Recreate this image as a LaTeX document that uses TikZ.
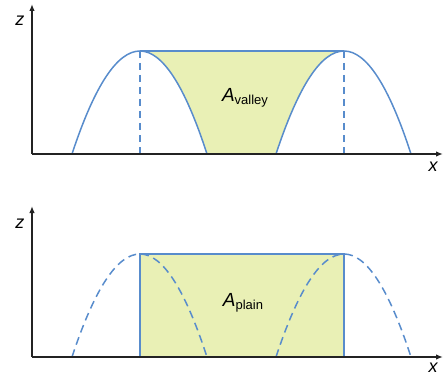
\documentclass[tikz,border=0pt]{standalone}
\usepackage{fontspec}
\setmainfont{Liberation Sans}
\usetikzlibrary{arrows.meta}
\definecolor{curveblue}{RGB}{88,140,204}
\definecolor{areafill}{RGB}{233,240,181}
\definecolor{axisgray}{RGB}{35,35,35}
\tikzset{
  axisline/.style={draw=axisgray, line width=1.8pt, -{Latex[length=7pt,width=5.5pt]}},
  curve/.style={draw=curveblue, line width=1.5pt},
  dashcurve/.style={draw=curveblue, line width=1.5pt, dash pattern=on 8pt off 5pt},
  axlabel/.style={font=\fontsize{18}{18}\selectfont\itshape, inner sep=0pt},
  arealabel/.style={font=\fontsize{19}{19}\selectfont, inner sep=0pt}
}
\newcommand{\sublab}[1]{{\itshape A}\raisebox{-0.25ex}{\fontsize{13}{13}\selectfont #1}}
\begin{document}
\begin{tikzpicture}[x=1pt,y=-1pt]
\useasboundingbox (0,0) rectangle (444,377);
% ---------- top panel ----------
\coordinate (o1) at (32,154);
\coordinate (zt1) at (32,4);
\coordinate (xe1) at (443,154);
\coordinate (la1) at (72,154);
\coordinate (pk1) at (140,51);
\coordinate (lb1) at (207,154);
\coordinate (ra1) at (276,154);
\coordinate (pk2) at (344,51);
\coordinate (rb1) at (411,154);
\coordinate (pk1b) at (140,154);
\coordinate (pk2b) at (344,154);
% shaded valley
\fill[areafill] (pk1) -- (pk2) .. controls (321.33,51) and (298.67,85.33) .. (ra1)
  -- (lb1) .. controls (184.67,85.33) and (162.33,51) .. (pk1) -- cycle;
\draw[curve] (pk1) -- (pk2);
\draw[curve] (la1) .. controls (94.67,85.33) and (117.33,51) .. (pk1)
  .. controls (162.33,51) and (184.67,85.33) .. (lb1);
\draw[curve] (ra1) .. controls (298.67,85.33) and (321.33,51) .. (pk2)
  .. controls (366.33,51) and (388.67,85.33) .. (rb1);
\draw[dashcurve, dash pattern=on 7pt off 5pt] (pk1) -- (pk1b);
\draw[dashcurve, dash pattern=on 7pt off 5pt] (pk2) -- (pk2b);
\draw[axisline] (o1) -- (zt1);
\draw[axisline] (o1) -- (xe1);
\node[axlabel] (zlab1) at (20,21) {z};
\node[axlabel] (xlab1) at (433,167) {x};
\node[arealabel] (av) at (245,98) {\sublab{valley}};
% ---------- bottom panel ----------
\coordinate (o2) at (32,357);
\coordinate (zt2) at (32,206);
\coordinate (xe2) at (443,357);
\coordinate (la2) at (72,357);
\coordinate (pk3) at (140,254);
\coordinate (lb2) at (207,357);
\coordinate (ra2) at (276,357);
\coordinate (pk4) at (344,254);
\coordinate (rb2) at (411,357);
\coordinate (pk3b) at (140,357);
\coordinate (pk4b) at (344,357);
\fill[areafill] (pk3) rectangle (pk4b);
\draw[curve] (pk3) rectangle (pk4b);
\draw[dashcurve] (la2) .. controls (94.67,288.33) and (117.33,254) .. (pk3)
  .. controls (162.33,254) and (184.67,288.33) .. (lb2);
\draw[dashcurve] (ra2) .. controls (298.67,288.33) and (321.33,254) .. (pk4)
  .. controls (366.33,254) and (388.67,288.33) .. (rb2);
\draw[axisline] (o2) -- (zt2);
\draw[axisline] (o2) -- (xe2);
\node[axlabel] (zlab2) at (20,224) {z};
\node[axlabel] (xlab2) at (433,368) {x};
\node[arealabel] (ap) at (243,303) {\sublab{plain}};
\end{tikzpicture}
\end{document}
